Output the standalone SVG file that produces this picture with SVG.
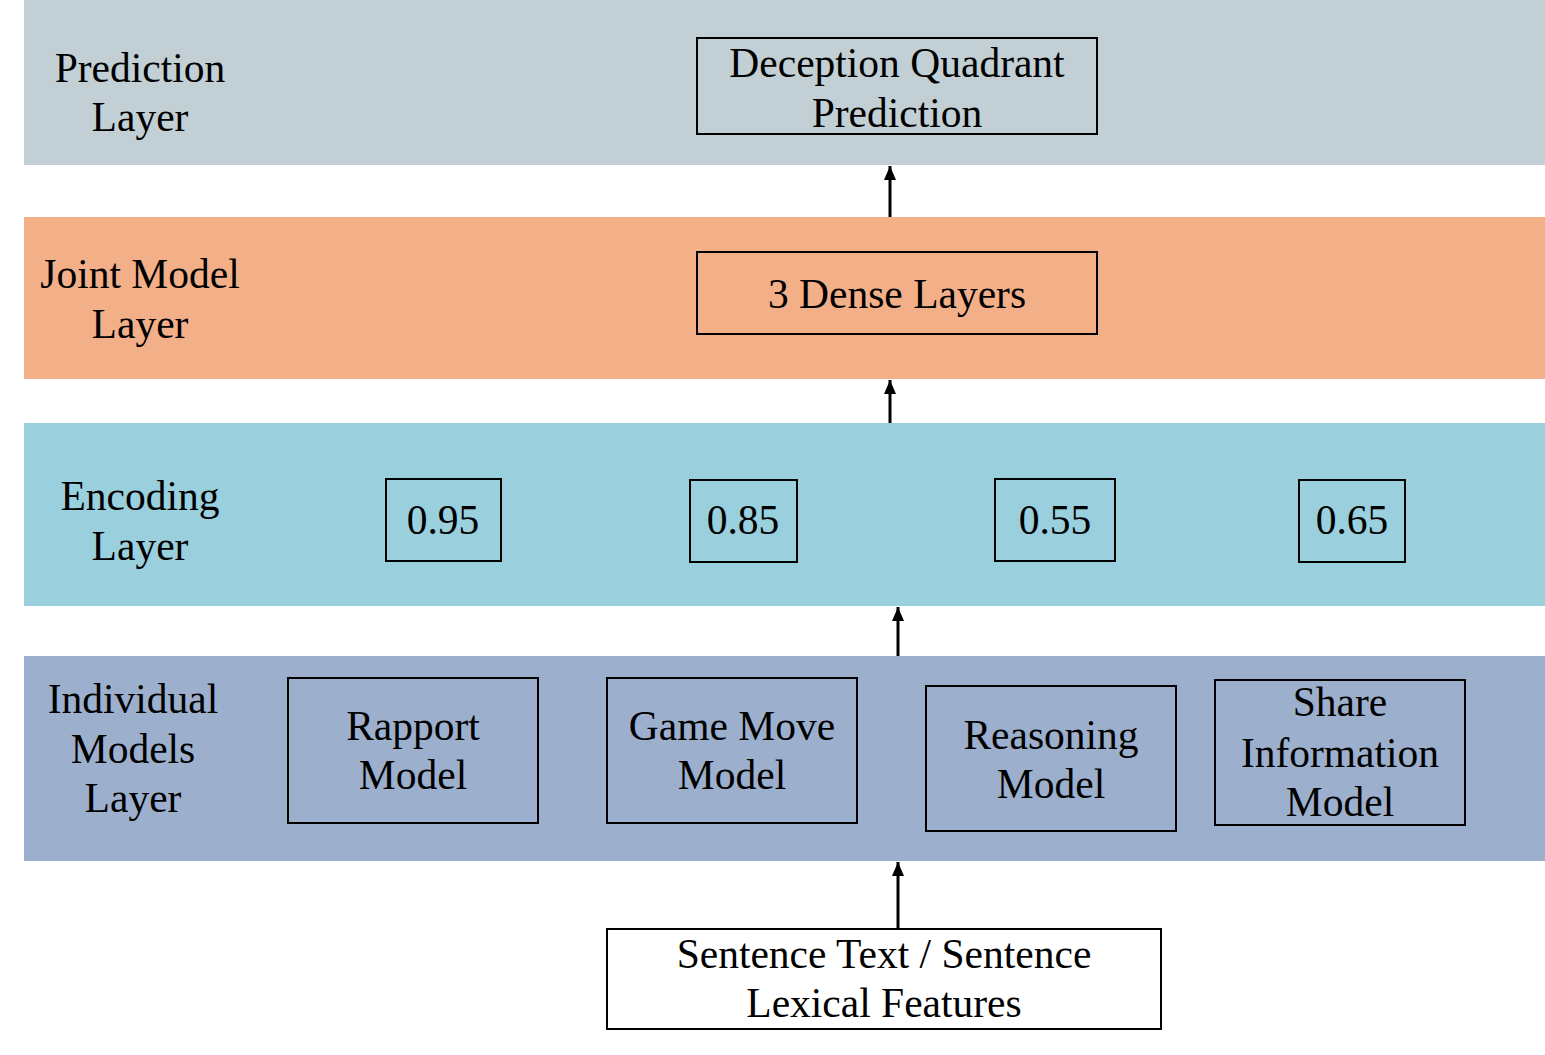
<svg xmlns="http://www.w3.org/2000/svg" width="1545" height="1055" viewBox="0 0 1545 1055">
<style>
text{font-family:'Liberation Serif','Times New Roman','DejaVu Serif',serif;font-size:41.5px;fill:#000;text-anchor:middle}
.box{stroke:#000;stroke-width:2;fill:none}
.conn{stroke:#000;stroke-width:3;fill:none}
</style>
<defs>
<marker id="ah" markerWidth="14" markerHeight="12" refX="14" refY="6" orient="auto" markerUnits="userSpaceOnUse" viewBox="0 0 14 12">
<path d="M0,0 L14,6 L0,12 Z" fill="#000"/>
</marker>
</defs>
<rect width="1545" height="1055" fill="#fff"/>
<g id="band-prediction"><rect x="24" y="0" width="1521" height="165" fill="#C2D0D5"/><text x="140" y="82">Prediction</text><text x="140" y="131">Layer</text></g>
<g id="band-joint"><rect x="24" y="217" width="1521" height="162" fill="#F3AF88"/><text x="140" y="288">Joint Model</text><text x="140" y="338">Layer</text></g>
<g id="band-encoding"><rect x="24" y="423" width="1521" height="183" fill="#9ACFDE"/><text x="140" y="510">Encoding</text><text x="140" y="560">Layer</text></g>
<g id="band-individual"><rect x="24" y="656" width="1521" height="205" fill="#9CB0CE"/><text x="133" y="713">Individual</text><text x="133" y="763">Models</text><text x="133" y="812">Layer</text></g>
<g id="n-deception"><rect class="box" x="697" y="38" width="400" height="96"/><text x="897" y="77">Deception Quadrant</text><text x="897" y="127">Prediction</text></g>
<g id="n-dense"><rect class="box" x="697" y="252" width="400" height="82"/><text x="897" y="308">3 Dense Layers</text></g>
<g id="n-095"><rect class="box" x="386" y="479" width="115" height="82"/><text x="443" y="534">0.95</text></g>
<g id="n-085"><rect class="box" x="690" y="480" width="107" height="82"/><text x="743" y="534">0.85</text></g>
<g id="n-055"><rect class="box" x="995" y="479" width="120" height="82"/><text x="1055" y="534">0.55</text></g>
<g id="n-065"><rect class="box" x="1299" y="480" width="106" height="82"/><text x="1352" y="534">0.65</text></g>
<g id="n-rapport"><rect class="box" x="288" y="678" width="250" height="145"/><text x="413" y="740">Rapport</text><text x="413" y="789">Model</text></g>
<g id="n-gamemove"><rect class="box" x="607" y="678" width="250" height="145"/><text x="732" y="740">Game Move</text><text x="732" y="789">Model</text></g>
<g id="n-reasoning"><rect class="box" x="926" y="686" width="250" height="145"/><text x="1051" y="749">Reasoning</text><text x="1051" y="798">Model</text></g>
<g id="n-share"><rect class="box" x="1215" y="680" width="250" height="145"/><text x="1340" y="716">Share</text><text x="1340" y="767">Information</text><text x="1340" y="816">Model</text></g>
<g id="n-input"><rect x="607" y="929" width="554" height="100" fill="#fff" stroke="#000" stroke-width="2"/><text x="884" y="968">Sentence Text / Sentence</text><text x="884" y="1017">Lexical Features</text></g>
<g id="connectors">
<line class="conn" x1="890" y1="217" x2="890" y2="166" marker-end="url(#ah)"/>
<line class="conn" x1="890" y1="423" x2="890" y2="380" marker-end="url(#ah)"/>
<line class="conn" x1="898" y1="656" x2="898" y2="607" marker-end="url(#ah)"/>
<line class="conn" x1="898" y1="929" x2="898" y2="862" marker-end="url(#ah)"/>
</g>
</svg>
